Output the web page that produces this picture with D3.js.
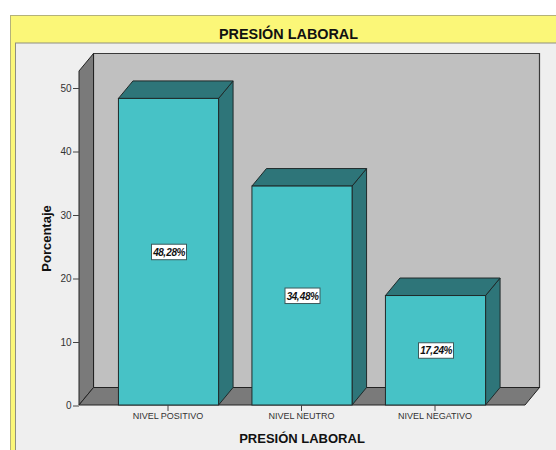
<!DOCTYPE html>
<html>
<head>
<meta charset="utf-8">
<script src="https://cdn.jsdelivr.net/npm/d3@7"></script>
<style>
html,body{margin:0;padding:0;background:#fff}
svg{display:block}
text{font-family:"Liberation Sans",Arial,sans-serif}
</style>
</head>
<body>
<div id="chart"></div>
<script>
const categories = ["NIVEL POSITIVO", "NIVEL NEUTRO", "NIVEL NEGATIVO"];
const percentages = [48.28, 34.48, 17.24];
const yTicks = [0, 10, 20, 30, 40, 50];
const chartTitle = "PRESIÓN LABORAL";
const xAxisTitle = "PRESIÓN LABORAL";
const yAxisTitle = "Porcentaje";

const width = 556, height = 450;
const depthX = 14.5, depthY = 17.5;
const frontLeft = 79, frontRight = 525;
const yTopValue = 52.6;

const svg = d3.select("#chart").append("svg").attr("width", width).attr("height", height);

const y = d3.scaleLinear().domain([0, 50]).range([405, 87.5]);
const x = d3.scaleBand().domain(categories).range([101.75, 502.25]).paddingInner(0.25).paddingOuter(0.125);

const polygon = pts => d3.line()(pts) + "Z";
const edge = "#1f2a2a";

// Outer header band and inner plot frame
svg.append("rect").attr("x", 10.5).attr("y", 15.5).attr("width", 560).attr("height", 450)
  .attr("fill", "#fbf778").attr("stroke", "#b4b27a");
svg.append("rect").attr("x", 15.5).attr("y", 43).attr("width", 560).attr("height", 420)
  .attr("fill", "#efefef").attr("stroke", "#8f8f80");
svg.append("text").attr("x", 288.5).attr("y", 38.5).attr("text-anchor", "middle")
  .attr("font-size", 14.4).attr("font-weight", 700).attr("fill", "#111").text(chartTitle);

// Three-dimensional plot box: back wall, side wall and floor
const y0 = y(0), yTop = y(yTopValue);
const g = svg.append("g");
g.append("path")
  .attr("d", polygon([[frontLeft + depthX, yTop - depthY], [frontRight + depthX, yTop - depthY], [frontRight + depthX, y0 - depthY], [frontLeft + depthX, y0 - depthY]]))
  .attr("fill", "#c0c0c0").attr("stroke", "#3a3a3a").attr("stroke-width", 1.2);
g.append("path")
  .attr("d", polygon([[frontLeft, yTop], [frontLeft + depthX, yTop - depthY], [frontLeft + depthX, y0 - depthY], [frontLeft, y0]]))
  .attr("fill", "#7a7a7a").attr("stroke", "#222").attr("stroke-width", 1);
g.append("path")
  .attr("d", polygon([[frontLeft, y0], [frontLeft + depthX, y0 - depthY], [frontRight + depthX, y0 - depthY], [frontRight, y0]]))
  .attr("fill", "#7a7a7a").attr("stroke", "#222").attr("stroke-width", 1);

// Bars drawn as front face, top face and right side face
const bars = g.selectAll("g.bar").data(categories.map((c, i) => ({c, v: percentages[i]}))).join("g").attr("class", "bar");
bars.append("path")
  .attr("d", d => {
    const l = x(d.c) + x.bandwidth(), t = y(d.v);
    return polygon([[l, t], [l + depthX, t - depthY], [l + depthX, y0 - depthY], [l, y0]]);
  })
  .attr("fill", "#2e7579").attr("stroke", edge).attr("stroke-width", 1);
bars.append("path")
  .attr("d", d => {
    const l = x(d.c), r = l + x.bandwidth(), t = y(d.v);
    return polygon([[l, t], [l + depthX, t - depthY], [r + depthX, t - depthY], [r, t]]);
  })
  .attr("fill", "#2e7579").attr("stroke", edge).attr("stroke-width", 1);
bars.append("rect")
  .attr("x", d => x(d.c)).attr("y", d => y(d.v))
  .attr("width", x.bandwidth()).attr("height", d => y0 - y(d.v))
  .attr("fill", "#47c2c6").attr("stroke", edge).attr("stroke-width", 1);

// Value labels in the middle of each bar
const fmt = v => d3.format(".2f")(v).replace(".", ", ") + "%";
const labels = bars.append("g")
  .attr("transform", d => `translate(${x(d.c) + x.bandwidth() / 2},${y(d.v / 2)})`);
labels.append("rect").attr("x", -17).attr("y", -7.5).attr("width", 35).attr("height", 15.5)
  .attr("fill", "#fff").attr("stroke", "#3c5a5c").attr("stroke-width", 1);
labels.append("text").attr("text-anchor", "middle").attr("x", 0.5).attr("y", 4)
  .attr("font-size", 10).attr("font-weight", 700).attr("font-style", "italic")
  .attr("letter-spacing", -0.5).attr("word-spacing", -1.5).attr("fill", "#111").text(d => fmt(d.v));

// Axes
const yAxis = d3.axisLeft(y).tickValues(yTicks).tickSize(6).tickPadding(1.5);
const yG = svg.append("g").attr("transform", `translate(${frontLeft},0.5)`).call(yAxis);
yG.select(".domain").remove();
yG.selectAll("line").attr("stroke", "#444");
yG.selectAll("text").attr("font-size", 10).attr("fill", "#333").attr("font-family", '"Liberation Sans",Arial,sans-serif');

const xAxis = d3.axisBottom(x).tickSize(6).tickPadding(2);
const xG = svg.append("g").attr("transform", `translate(-0.5,${y0})`).call(xAxis);
xG.select(".domain").remove();
xG.selectAll("line").attr("stroke", "#444");
xG.selectAll("text").attr("font-size", 9).attr("fill", "#333").attr("font-family", '"Liberation Sans",Arial,sans-serif');

svg.append("text").attr("x", 302).attr("y", 443).attr("text-anchor", "middle")
  .attr("font-size", 13).attr("font-weight", 700).attr("fill", "#111").text(xAxisTitle);
svg.append("text").attr("transform", "translate(51,238.5) rotate(-90)").attr("text-anchor", "middle")
  .attr("font-size", 13).attr("font-weight", 700).attr("fill", "#111").text(yAxisTitle);
</script>
</body>
</html>
